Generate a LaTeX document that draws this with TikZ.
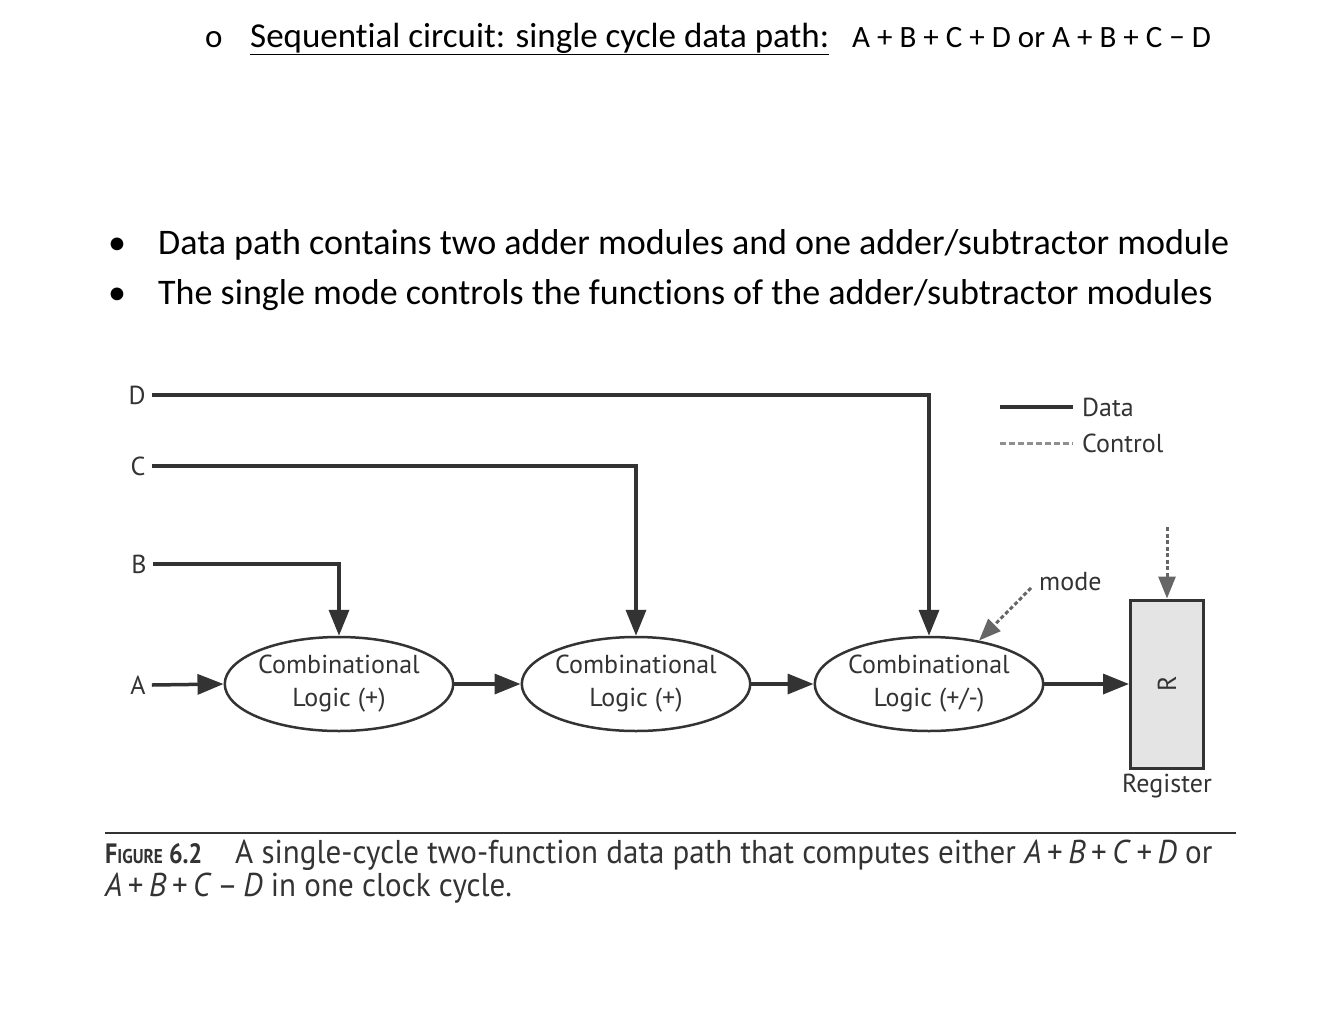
\documentclass[tikz,border=0pt]{standalone}
\usepackage{fontspec}
\setmainfont{Carlito}[Ligatures=NoCommon]
\newfontfamily\dfont{PT Sans}
\newfontfamily\capfont[FakeStretch=0.94]{PT Sans}
\newfontfamily\figfont[FakeStretch=0.86]{PT Sans}
\usetikzlibrary{shapes.geometric,arrows.meta}
\definecolor{ink}{HTML}{333333}
\definecolor{regfill}{HTML}{E4E4E4}
\begin{document}
\begin{tikzpicture}[x=1pt,y=-1pt,
  htext/.style={anchor=base west,inner sep=0,font=\fontsize{36}{42}\selectfont},
  lbl/.style={inner sep=0,text=ink,font=\dfont\fontsize{26}{30}\selectfont},
  logic/.style={ellipse,draw=ink,line width=2.5pt,minimum width=222pt,minimum height=94pt,inner sep=0,align=center,text=ink,font=\dfont\fontsize{26}{33}\selectfont},
  reg/.style={draw=ink,fill=regfill,line width=3pt,minimum width=73pt,minimum height=168pt,inner sep=0},
  data/.style={draw=ink,line width=3.5pt},
  dataarrow/.style={data,-{Triangle[length=26pt,width=20pt]}},
  ctrl/.style={draw=ink!75,line width=3pt,dash pattern=on 4pt off 2.5pt},
  ctrlarrow/.style={ctrl,-{Triangle[length=22pt,width=17pt]}},
  captext/.style={anchor=base west,inner sep=0,text=ink,font=\capfont\fontsize{33}{38}\selectfont}]
\path[use as bounding box,fill=white] (0,0) rectangle (1332,1028);

% header
\node[anchor=base west,inner sep=0,font=\fontsize{33}{38}\selectfont] (hb) at (205,47) {o};
\node[anchor=base west,inner sep=0,font=\fontsize{35}{40}\selectfont] (h1) at (250,47) {\underline{Sequential circuit: single cycle data path:}};
\node[anchor=base west,inner sep=0,font=\fontsize{31}{36}\selectfont] (h2) at (852,47) {A + B + C + D or A + B + C − D};

% bullets
\node[htext] (b1) at (108,254) {•};
\node[htext] (t1) at (158,254) {Data path contains two adder modules and one adder/subtractor module};
\node[htext] (b2) at (108,304) {•};
\node[htext] (t2) at (158,304) {The single mode controls the functions of the adder/subtractor modules};

% diagram
\node[lbl] (D) at (137,395) {D};
\node[lbl] (C) at (138,466) {C};
\node[lbl] (B) at (139,564) {B};
\node[lbl] (A) at (138,685) {A};

\node[logic] (e1) at (339,684) {Combinational\\Logic (+)};
\node[logic] (e2) at (636,684) {Combinational\\Logic (+)};
\node[logic] (e3) at (929,684) {Combinational\\Logic (+/-)};
\node[reg] (R) at (1167,684) {};
\node[lbl,rotate=90] (Rl) at (R.center) {R};
\node[lbl,anchor=north] (Rn) at (1167,774) {Register};

\draw[dataarrow] (D.east)++(6,0) -| (e3.north);
\draw[dataarrow] (C.east)++(6,0) -| (e2.north);
\draw[dataarrow] (B.east)++(6,0) -| (e1.north);
\draw[dataarrow] (A.east)++(6,0) -- (e1.west);
\draw[dataarrow] (e1.east) -- (e2.west);
\draw[dataarrow] (e2.east) -- (e3.west);
\draw[dataarrow] (e3.east) -- (R.west);

\coordinate (clk) at (1167,527);
\draw[ctrlarrow] (clk) -- (R.north);

\node[lbl,anchor=west] (mode) at (1039,582) {mode};
\coordinate (ms) at (1031,588);
\draw[ctrlarrow] (ms) -- (e3.41);

% legend
\coordinate (l1a) at (1000,407);
\coordinate (l1b) at (1073,407);
\coordinate (l2a) at (1000,443);
\coordinate (l2b) at (1073,443);
\draw[data] (l1a) -- (l1b);
\draw[ctrl,draw=ink!55,dash pattern=on 6pt off 3pt] (l2a) -- (l2b);
\node[lbl,anchor=west] (ld) at (1082,407) {Data};
\node[lbl,anchor=west] (lc) at (1082,443) {Control};

% caption
\coordinate (r1) at (105,833);
\coordinate (r2) at (1236,833);
\draw[draw=ink,line width=2.5pt] (r1) -- (r2);
\node[anchor=base west,inner sep=0,text=ink,font=\figfont\fontsize{28}{34}\selectfont] (c0) at (105,863) {\bfseries F\fontsize{20}{24}\selectfont IGURE\fontsize{28}{34}\selectfont\ 6.2};
\node[captext] (c1) at (235,863) {A single-cycle two-function data path that computes either \textit{A}\,+\,\textit{B}\,+\,\textit{C}\,+\,\textit{D} or};
\node[captext] (c2) at (105,896) {\textit{A}\,+\,\textit{B}\,+\,\textit{C}\,–\,\textit{D} in one clock cycle.};
\end{tikzpicture}
\end{document}
